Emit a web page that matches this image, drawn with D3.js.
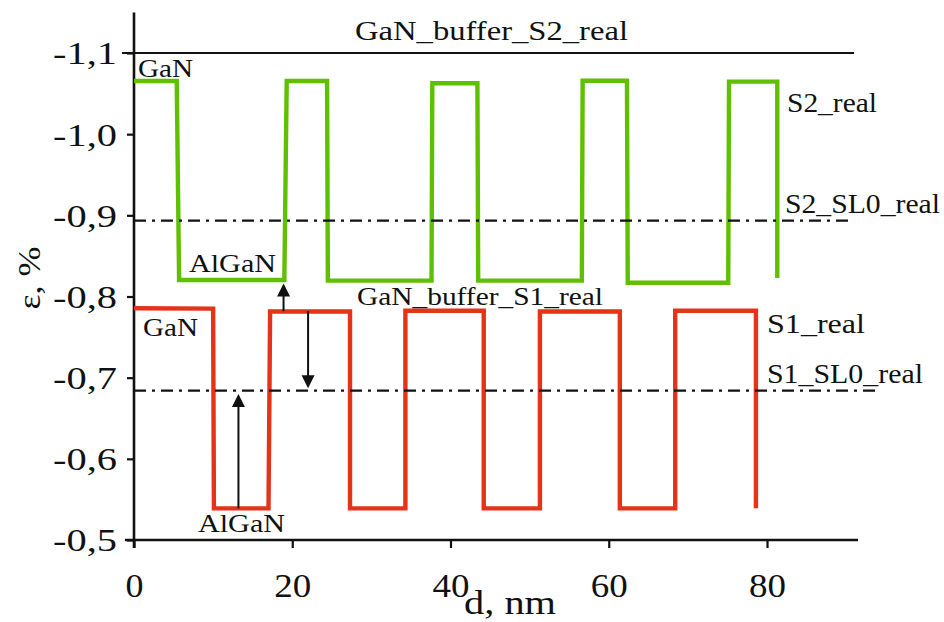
<!DOCTYPE html>
<html>
<head>
<meta charset="utf-8">
<script src="https://cdn.jsdelivr.net/npm/d3@7"></script>
<style>
  body { margin: 0; background: #fff; }
  svg { display: block; }
  text { font-family: "Liberation Serif", "Times New Roman", serif; fill: #111; }
</style>
</head>
<body>
<svg id="chart" width="944" height="622"></svg>
<script>
// Layer depth d (nm) and strain ε (%) for the two superlattice profiles
const s2Depth  = [0, 5.4, 5.7, 19.0, 19.3, 24.4, 24.5, 37.6, 37.7, 43.4, 43.5, 56.6, 56.7, 62.3, 62.4, 75.1, 75.2, 81.3, 81.3];
const s2Strain = [-1.0655, -1.0655, -0.8203, -0.8203, -1.0655, -1.0655, -0.8195, -0.8195, -1.0627, -1.0627, -0.8195, -0.8195, -1.0659, -1.0659, -0.817, -0.817, -1.0647, -1.0647, -0.8228];

const s1Depth  = [0, 10.0, 10.1, 17.0, 17.2, 27.3, 27.3, 34.3, 34.3, 44.2, 44.2, 51.3, 51.3, 61.4, 61.4, 68.4, 68.4, 78.6, 78.6];
const s1Strain = [-0.7855, -0.785, -0.539, -0.539, -0.7815, -0.7815, -0.539, -0.539, -0.7825, -0.7825, -0.539, -0.539, -0.7815, -0.7815, -0.539, -0.539, -0.7825, -0.7825, -0.539];

// Reference levels: buffer strain and averaged superlattice strain
const bufferS2Level = -1.1;
const bufferS2Span  = [0, 91.0];
const sl0Names  = ["S2_SL0_real", "S1_SL0_real"];
const sl0Levels = [-0.8935, -0.684];
const sl0Ends   = [90.5, 94.0];

// Arrows: depth, start strain, end strain
const arrowDepth = [13.2, 22.0, 18.9];
const arrowFrom  = [-0.539, -0.782, -0.782];
const arrowTo    = [-0.680, -0.687, -0.816];

const xTicks = [0, 20, 40, 60, 80];
const yTicks = [-1.1, -1.0, -0.9, -0.8, -0.7, -0.6, -0.5];

const green = "#5ec000";
const red   = "#e43318";
const ink   = "#111";

const svg = d3.select("#chart");
svg.append("rect").attr("width", 944).attr("height", 622).attr("fill", "#fff");

const x = d3.scaleLinear().domain([0, 91.5]).range([134, 858]);
const y = d3.scaleLinear().domain([-0.5, -1.1]).range([540, 53]);

const line = d3.line().x(d => x(d[0])).y(d => y(d[1]));

// axis lines
svg.append("line")
  .attr("x1", x(0)).attr("x2", x(0))
  .attr("y1", y(-1.15)).attr("y2", y(-0.5) + 8)
  .attr("stroke", ink).attr("stroke-width", 2.6);
svg.append("line")
  .attr("x1", x(-1.15)).attr("x2", x(91.5))
  .attr("y1", y(-0.5)).attr("y2", y(-0.5))
  .attr("stroke", ink).attr("stroke-width", 2.6);

// y axis ticks and labels
const yAxis = d3.axisLeft(y).tickValues(yTicks).tickSize(7).tickPadding(10)
  .tickFormat(d => d.toFixed(1).replace(".", ","));
const gy = svg.append("g").attr("transform", `translate(${x(0)},0)`).call(yAxis);
gy.select(".domain").remove();
gy.selectAll(".tick line").attr("stroke", ink).attr("stroke-width", 2.2);
gy.selectAll(".tick text")
  .attr("font-size", 32)
  .attr("fill", ink)
  .attr("x", -17)
  .attr("dy", "0.34em")
  .attr("textLength", 64)
  .attr("lengthAdjust", "spacingAndGlyphs");

// x axis ticks and labels
const xAxis = d3.axisBottom(x).tickValues(xTicks).tickSize(8).tickPadding(10)
  .tickFormat(d3.format("d"));
const gx = svg.append("g").attr("transform", `translate(0,${y(-0.5)})`).call(xAxis);
gx.select(".domain").remove();
gx.selectAll(".tick line").attr("stroke", ink).attr("stroke-width", 2.2);
gx.selectAll(".tick text")
  .attr("font-size", 34)
  .attr("fill", ink)
  .attr("y", 57)
  .attr("dy", 0)
  .attr("textLength", d => d === 0 ? 18 : 37)
  .attr("lengthAdjust", "spacingAndGlyphs");

// buffer level
svg.append("line")
  .attr("x1", x(bufferS2Span[0]) - 12).attr("x2", x(bufferS2Span[1]))
  .attr("y1", y(bufferS2Level)).attr("y2", y(bufferS2Level))
  .attr("stroke", ink).attr("stroke-width", 2.2);

// strain profiles
svg.append("path")
  .datum(s2Depth.map((d, i) => [d, s2Strain[i]]))
  .attr("d", line)
  .attr("fill", "none").attr("stroke", green).attr("stroke-width", 4.4)
  .attr("stroke-linejoin", "miter");
svg.append("path")
  .datum(s1Depth.map((d, i) => [d, s1Strain[i]]))
  .attr("d", line)
  .attr("fill", "none").attr("stroke", red).attr("stroke-width", 4.4)
  .attr("stroke-linejoin", "miter");

// averaged superlattice levels (dash-dot)
sl0Levels.forEach((v, i) => {
  svg.append("line")
    .attr("x1", x(0)).attr("x2", x(sl0Ends[i]))
    .attr("y1", y(v)).attr("y2", y(v))
    .attr("stroke", ink).attr("stroke-width", 2.2)
    .attr("stroke-dasharray", "12,6,3,6");
});

// arrows
arrowDepth.forEach((d, i) => {
  const px = x(d);
  const y0 = y(arrowFrom[i]);
  const y1 = y(arrowTo[i]);
  const dir = y1 < y0 ? 1 : -1;   // 1 = pointing up
  const headLen = 13, headHalf = 6.5;
  svg.append("line")
    .attr("x1", px).attr("x2", px)
    .attr("y1", y0).attr("y2", y1 + dir * headLen * 0.8)
    .attr("stroke", ink).attr("stroke-width", 2);
  svg.append("path")
    .attr("d", `M${px},${y1} L${px - headHalf},${y1 + dir * headLen} L${px + headHalf},${y1 + dir * headLen} Z`)
    .attr("fill", ink);
});

// annotation labels: text, left x, baseline y, font size, drawn width
function label(txt, px, py, size, width) {
  svg.append("text")
    .attr("x", px).attr("y", py)
    .attr("font-size", size)
    .attr("textLength", width)
    .attr("lengthAdjust", "spacingAndGlyphs")
    .text(txt);
}
label("GaN_buffer_S2_real", 355, 40, 27, 273);
label("GaN", 138, 77, 26, 55);
label("AlGaN", 189, 272, 26, 87);
label("GaN", 143, 336, 26, 55);
label("AlGaN", 198, 532, 26, 87);
label("GaN_buffer_S1_real", 357, 305, 26, 246);
label("S2_real", 787, 112, 27, 90);
label("S2_SL0_real", 785, 213, 27, 155);
label("S1_real", 767, 333, 27, 98);
label("S1_SL0_real", 767, 383, 27, 156);

// axis titles
svg.append("text")
  .attr("x", 510).attr("y", 614)
  .attr("text-anchor", "middle")
  .attr("font-size", 34)
  .attr("textLength", 92)
  .attr("lengthAdjust", "spacingAndGlyphs")
  .text("d, nm");
svg.append("text")
  .attr("transform", "translate(40,278) rotate(-90)")
  .attr("text-anchor", "middle")
  .attr("font-size", 32)
  .attr("textLength", 63)
  .attr("lengthAdjust", "spacingAndGlyphs")
  .text("ε, %");
</script>
</body>
</html>
